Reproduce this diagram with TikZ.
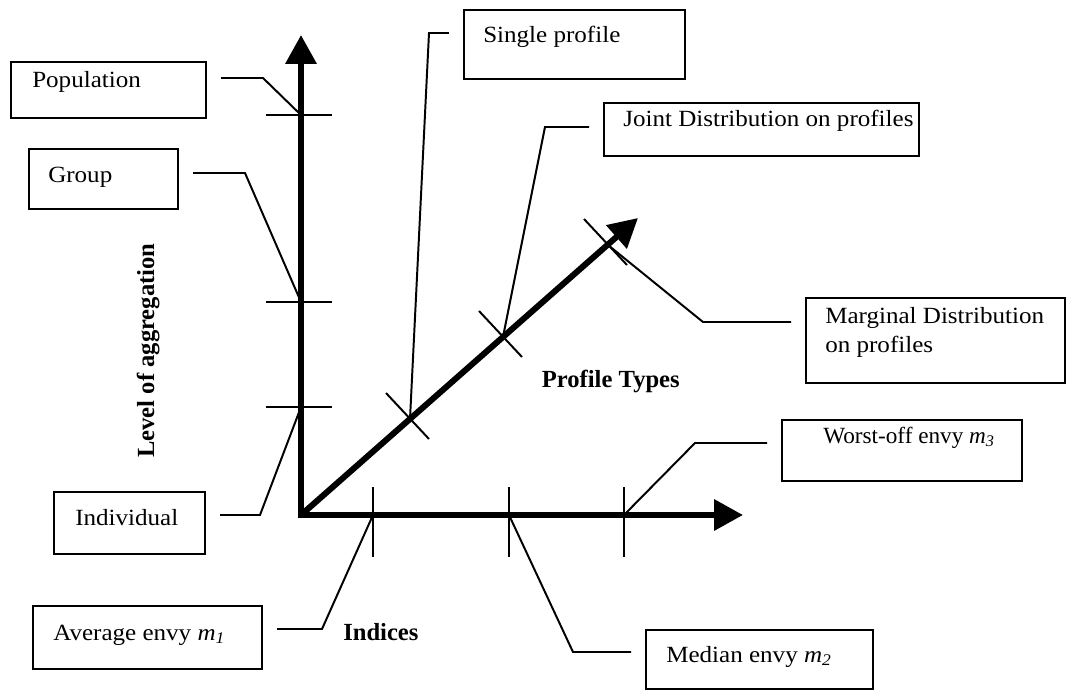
\documentclass[tikz,border=0pt]{standalone}
\usepackage{fontspec}
\setmainfont{Liberation Serif}
\newfontfamily\cajafont{Liberation Serif}[FakeStretch=1.08]
\usetikzlibrary{arrows.meta,calc}

\begin{document}
\begin{tikzpicture}[x=0.025cm,y=-0.025cm,
        eje/.style={line width=4.3pt,-{Triangle[length=0.72cm,width=0.75cm]}},
        marca/.style={line width=1.4pt},
        enlace/.style={line width=1.4pt},
        caja/.style={draw,line width=1.4pt,inner sep=0pt,anchor=north west},
        texto/.style={font=\cajafont\fontsize{16.5}{20.6}\selectfont,inner sep=0pt,anchor=base west},
        titulo/.style={font=\fontsize{17.5}{21}\selectfont\bfseries,inner sep=0pt}]

        \useasboundingbox (0,0) rectangle (1068,690);

        % Paso 1: Define el origen y las puntas de los tres ejes
        \coordinate (O) at (301,515);
        \coordinate (Y) at (301,35);
        \coordinate (X) at (743,515);
        \coordinate (D) at (638,218);

        % Paso 2: Dibuja los ejes con sus flechas
        \draw[eje] ($(O)+(0,3)$) -- (Y);
        \draw[eje] ($(O)+(-3,0)$) -- (X);
        \draw[eje] (O) -- (D);

        % Paso 3: Marca las divisiones de cada eje
        \coordinate (P) at (301,115);
        \coordinate (G) at (301,302);
        \coordinate (I) at (301,407);
        \foreach \p in {P,G,I}
             \draw[marca] ($(\p)+(-35,0)$) -- ($(\p)+(31,0)$);

        \coordinate (M1) at (373,515);
        \coordinate (M2) at (509,515);
        \coordinate (M3) at (624,515);
        \foreach \p in {M1,M2,M3}
             \draw[marca] ($(\p)+(0,-28)$) -- ($(\p)+(0,42)$);

        \coordinate (S) at (410,419);
        \coordinate (J) at (503,337);
        \coordinate (R) at (608,245);
        \foreach \p in {S,J,R}
             \draw[marca] ($(\p)+(-24,-26)$) -- ($(\p)+(19,20)$);

        % Paso 4: Dibuja las cajas y sus textos
        \node[caja,minimum width=4.875cm,minimum height=1.4cm] (pop) at (10,61) {};
        \node[texto] (poptxt) at (32,88) {Population};
        \node[caja,minimum width=3.725cm,minimum height=1.5cm] (grp) at (28,148) {};
        \node[texto] (grptxt) at (48,182) {Group};
        \node[caja,minimum width=3.775cm,minimum height=1.55cm] (ind) at (53,491) {};
        \node[texto] (indtxt) at (75,525) {Individual};
        \node[caja,minimum width=5.725cm,minimum height=1.575cm] (avg) at (32,605) {};
        \node[texto] (avgtxt) at (53,640) {Average envy \textit{m}\textsubscript{\textit{1}}};
        \node[caja,minimum width=5.675cm,minimum height=1.475cm] (med) at (645,629) {};
        \node[texto] (medtxt) at (666,662) {Median envy \textit{m}\textsubscript{\textit{2}}};
        \node[caja,minimum width=6cm,minimum height=1.525cm] (wst) at (781,419) {};
        \node[texto,font=\fontsize{16.5}{20.6}\selectfont] (wsttxt) at (823,443) {Worst-off envy \textit{m}\textsubscript{\textit{3}}};
        \node[caja,minimum width=6.475cm,minimum height=2.125cm] (mrg) at (805,297) {};
        \node[texto,anchor=north west,align=left] (mrgtxt) at (825,307) {Marginal Distribution\\on profiles};
        \node[caja,minimum width=5.525cm,minimum height=1.725cm] (sgl) at (463,9) {};
        \node[texto] (sgltxt) at (483,43) {Single profile};
        \node[caja,minimum width=7.875cm,minimum height=1.325cm] (jnt) at (603,102) {};
        \node[texto] (jnttxt) at (623,127) {Joint Distribution on profiles};

        % Paso 5: Une cada caja con su marca
        \coordinate (pb) at (263,78);
        \coordinate (gb) at (245,173);
        \coordinate (ib) at (260,515);
        \coordinate (ab) at (322,629);
        \coordinate (mb) at (573,652);
        \coordinate (wb) at (695,443);
        \coordinate (rb) at (703,322);
        \coordinate (jb) at (545,127);
        \coordinate (sb) at (429,33);
        \draw[enlace,shorten <=0.35cm] (pop.east |- pb) -- (pb) -- (P);
        \draw[enlace,shorten <=0.35cm] (grp.east |- gb) -- (gb) -- (G);
        \draw[enlace,shorten <=0.35cm] (ind.east |- ib) -- (ib) -- (I);
        \draw[enlace,shorten <=0.35cm] (avg.east |- ab) -- (ab) -- (M1);
        \draw[enlace,shorten >=0.35cm] (M2) -- (mb) -- (mb -| med.west);
        \draw[enlace,shorten >=0.35cm] (M3) -- (wb) -- (wb -| wst.west);
        \draw[enlace,shorten >=0.35cm] (R) -- (rb) -- (rb -| mrg.west);
        \draw[enlace,shorten >=0.35cm] (J) -- (jb) -- (jb -| jnt.west);
        \draw[enlace,shorten >=0.35cm] (S) -- (sb) -- (sb -| sgl.west);

        % Paso 6: Agrega los nombres de los ejes
        \node[titulo,rotate=90,anchor=base west] (nivel) at (154,458) {Level of aggregation};
        \node[titulo,anchor=base east] (tipos) at (680,387) {Profile Types};
        \node[titulo,anchor=base west] (indices) at (343,640) {Indices};
\end{tikzpicture}
\end{document}
